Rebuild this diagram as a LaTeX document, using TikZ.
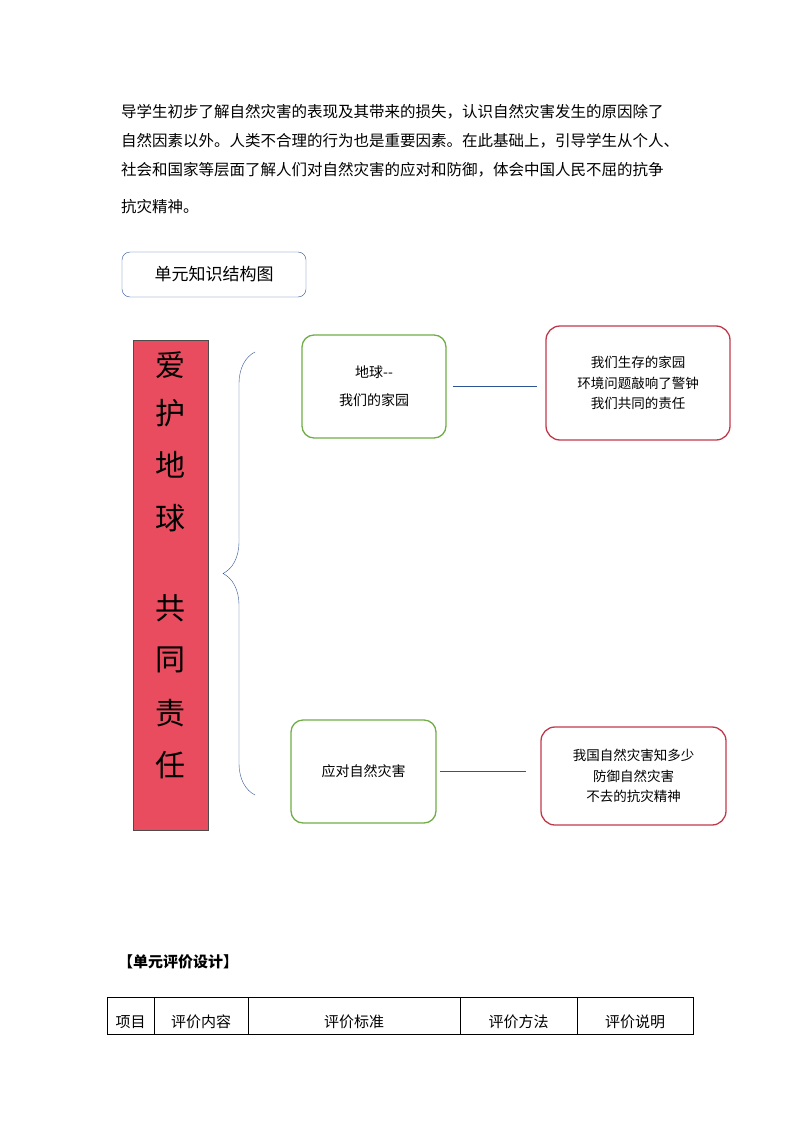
\documentclass[tikz,border=0pt]{standalone}
\usepackage{fontspec}
\setmainfont{Noto Sans CJK SC}
\usetikzlibrary{positioning,decorations.pathreplacing}
\definecolor{boxgreen}{RGB}{112,173,71}
\definecolor{boxred}{RGB}{192,57,75}
\definecolor{barred}{RGB}{232,76,94}
\definecolor{lineblue}{RGB}{47,84,150}
\begin{document}
\begin{tikzpicture}[x=1pt,y=-1pt, auto]
    \tikzstyle{topic} = [rectangle, rounded corners=12pt, draw=boxgreen, line width=1.3pt, align=center, font=\fontsize{14}{20}\selectfont]
    \tikzstyle{detail} = [rectangle, rounded corners=14pt, draw=boxred, line width=1.3pt, align=center, font=\fontsize{13.5}{20.5}\selectfont]
    \tikzstyle{para} = [anchor=west, font=\fontsize{15.5}{16}\selectfont, inner sep=0pt]
    \tikzstyle{cell} = [font=\fontsize{15}{16}\selectfont]
    \useasboundingbox (0,0) rectangle (794,1123);

    % Intro text
    \node[para] (p1) at (121,112) {导学生初步了解自然灾害的表现及其带来的损失，认识自然灾害发生的原因除了};
    \node[para] (p2) at (121,141) {自然因素以外。人类不合理的行为也是重要因素。在此基础上，引导学生从个人、};
    \node[para] (p3) at (121,170) {社会和国家等层面了解人们对自然灾害的应对和防御，体会中国人民不屈的抗争};
    \node[para] (p4) at (121,207) {抗灾精神。};

    % Title
    \node[draw=lineblue, rounded corners=8pt, minimum width=184pt, minimum height=45pt, font=\fontsize{17}{18}\selectfont] (title) at (214,274.5) {单元知识结构图};

    % Vertical banner
    \node[draw=black!70, fill=barred, minimum width=75pt, minimum height=490pt] (banner) at (170.5,585) {};
    \foreach \ch/\yy in {爱/365,护/413,地/465,球/518,共/608,同/660,责/713,任/765}
        \node[font=\fontsize{30}{30}\selectfont] at (170,\yy) {\ch};

    % Brace
    \draw[lineblue, decorate, decoration={brace, amplitude=32pt}] (255,795) -- (255,352);

    % Topics
    \node[topic, minimum width=144pt, minimum height=103pt] (earth) at (374,386.5) {地球{-}{-}\\[8pt]我们的家园};
    \node[detail, minimum width=184pt, minimum height=114pt] (earthd) at (638,383) {我们生存的家园\\环境问题敲响了警钟\\我们共同的责任};
    \node[topic, minimum width=145pt, minimum height=103pt] (disaster) at (363.5,771.5) {应对自然灾害};
    \node[detail, minimum width=185pt, minimum height=98pt] (disasterd) at (633.5,776) {我国自然灾害知多少\\防御自然灾害\\不去的抗灾精神};

    % Connections
    \draw[lineblue] ([xshift=6pt]earth.east) -- ([xshift=-8pt]earthd.west |- earth.east);
    \draw[lineblue] ([xshift=3pt]disaster.east) -- ([xshift=-14pt]disasterd.west |- disaster.east);

    % Evaluation table
    \node[anchor=west, font=\bfseries\fontsize{15}{16}\selectfont, inner sep=0pt] (evalhead) at (118,962) {【单元评价设计】};
    \draw (107,997) rectangle (693,1034);
    \foreach \xx in {154,248,460,577}
        \draw (\xx,997) -- (\xx,1034);
    \node[cell] (c1) at (130.5,1022) {项目};
    \node[cell] (c2) at (201,1022) {评价内容};
    \node[cell] (c3) at (354,1022) {评价标准};
    \node[cell] (c4) at (518.5,1022) {评价方法};
    \node[cell] (c5) at (635,1022) {评价说明};
\end{tikzpicture}
\end{document}
